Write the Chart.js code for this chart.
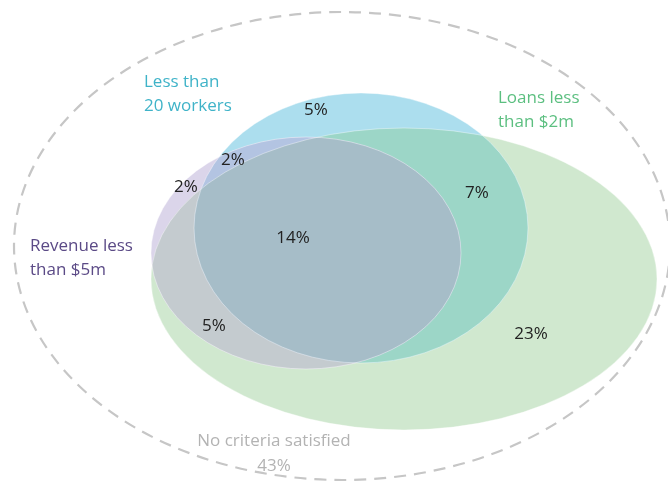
<!DOCTYPE html>
<html>
<head>
<meta charset="utf-8">
<script src="https://cdn.jsdelivr.net/npm/chart.js@4"></script>
<style>
html,body{margin:0;padding:0;background:#fff;}
#wrap{width:668px;height:481px;position:relative;}
</style>
</head>
<body>
<div id="wrap"><canvas id="c" width="668" height="481"></canvas></div>
<script>
// ---- data ----
const regionNames = ['Workers only','Workers & Revenue','Revenue only','Workers & Loans','All three','Revenue & Loans','Loans only','No criteria'];
const regionValues = [5, 2, 2, 7, 14, 5, 23, 43];
const setNames = ['Less than\n20 workers','Loans less\nthan $2m','Revenue less\nthan $5m'];
const noneLabel = 'No criteria satisfied';

// ---- layout (positions in plot units, y downward) ----
const regionPos = [[316,110],[233,160],[186,187],[477,193],[293,238],[214,326],[531,334]];
const setLabelPos = [[144,82],[498,98],[30,246]];
const setLabelColors = ['#3fb3c8','#5cbf80','#5b4a86'];
const ellipses = {
  outer:  {cx:342, cy:246, rx:328, ry:234},
  loans:  {cx:404, cy:279, rx:253, ry:151},
  workers:{cx:361, cy:228, rx:167, ry:135},
  revenue:{cx:306, cy:253, rx:155, ry:116}
};

const points = regionPos.map((p,i)=>({x:p[0], y:p[1], v:regionValues[i]}));

const vennPlugin = {
  id:'venn',
  beforeDatasetsDraw(chart){
    const {ctx, scales:{x,y}} = chart;
    const path = (e)=>{
      const cx=x.getPixelForValue(e.cx), cy=y.getPixelForValue(e.cy);
      const rx=Math.abs(x.getPixelForValue(e.cx+e.rx)-cx), ry=Math.abs(y.getPixelForValue(e.cy+e.ry)-cy);
      ctx.beginPath(); ctx.ellipse(cx,cy,rx,ry,0,0,Math.PI*2);
    };
    const fill = (e,c)=>{path(e); ctx.fillStyle=c; ctx.fill();};
    const clipTo = (e)=>{path(e); ctx.clip();};
    ctx.save();
    // outer dashed
    path(ellipses.outer);
    ctx.setLineDash([12,8]); ctx.lineWidth=2.2; ctx.strokeStyle='#c6c6c6'; ctx.stroke();
    ctx.setLineDash([]);
    // bases
    fill(ellipses.loans,'#d0e8cf');
    fill(ellipses.workers,'#acdeee');
    fill(ellipses.revenue,'#dbd5ea');
    // pairwise
    ctx.save(); clipTo(ellipses.loans); fill(ellipses.workers,'#9cd6c7'); ctx.restore();
    ctx.save(); clipTo(ellipses.loans); fill(ellipses.revenue,'#c4cbcf'); ctx.restore();
    ctx.save(); clipTo(ellipses.workers); fill(ellipses.revenue,'#b3c4e2'); ctx.restore();
    ctx.save(); clipTo(ellipses.workers); clipTo(ellipses.loans); fill(ellipses.revenue,'#a6bdc8'); ctx.restore();
    // faint edges
    ctx.lineWidth=1; ctx.strokeStyle='rgba(255,255,255,0.4)';
    ['loans','workers','revenue'].forEach(k=>{path(ellipses[k]); ctx.stroke();});
    ctx.restore();
  },
  afterDatasetsDraw(chart){
    const {ctx, scales:{x,y}} = chart;
    ctx.save();
    ctx.font = '17px "Open Sans", sans-serif';
    ctx.textBaseline='middle';
    // set labels
    setNames.forEach((n,i)=>{
      ctx.fillStyle=setLabelColors[i]; ctx.textAlign='left';
      n.split('\n').forEach((line,j)=>{
        ctx.fillText(line, x.getPixelForValue(setLabelPos[i][0]), y.getPixelForValue(setLabelPos[i][1]+j*24));
      });
    });
    // region values
    ctx.fillStyle='#222'; ctx.textAlign='center';
    chart.data.datasets[0].data.forEach(p=>{
      ctx.fillText(p.v+'%', x.getPixelForValue(p.x), y.getPixelForValue(p.y));
    });
    // none
    ctx.fillStyle='#b3b3b3';
    ctx.fillText(noneLabel, x.getPixelForValue(274), y.getPixelForValue(441));
    ctx.fillText(regionValues[7]+'%', x.getPixelForValue(274), y.getPixelForValue(466));
    ctx.restore();
  }
};

new Chart(document.getElementById('c'), {
  type:'scatter',
  data:{datasets:[{data:points, pointRadius:0, pointHoverRadius:0}]},
  options:{
    responsive:false, animation:false,
    layout:{padding:0},
    plugins:{legend:{display:false}, tooltip:{enabled:false}},
    scales:{
      x:{type:'linear', min:0, max:668, display:false},
      y:{type:'linear', min:0, max:481, reverse:true, display:false}
    }
  },
  plugins:[vennPlugin]
});
</script>
</body>
</html>
